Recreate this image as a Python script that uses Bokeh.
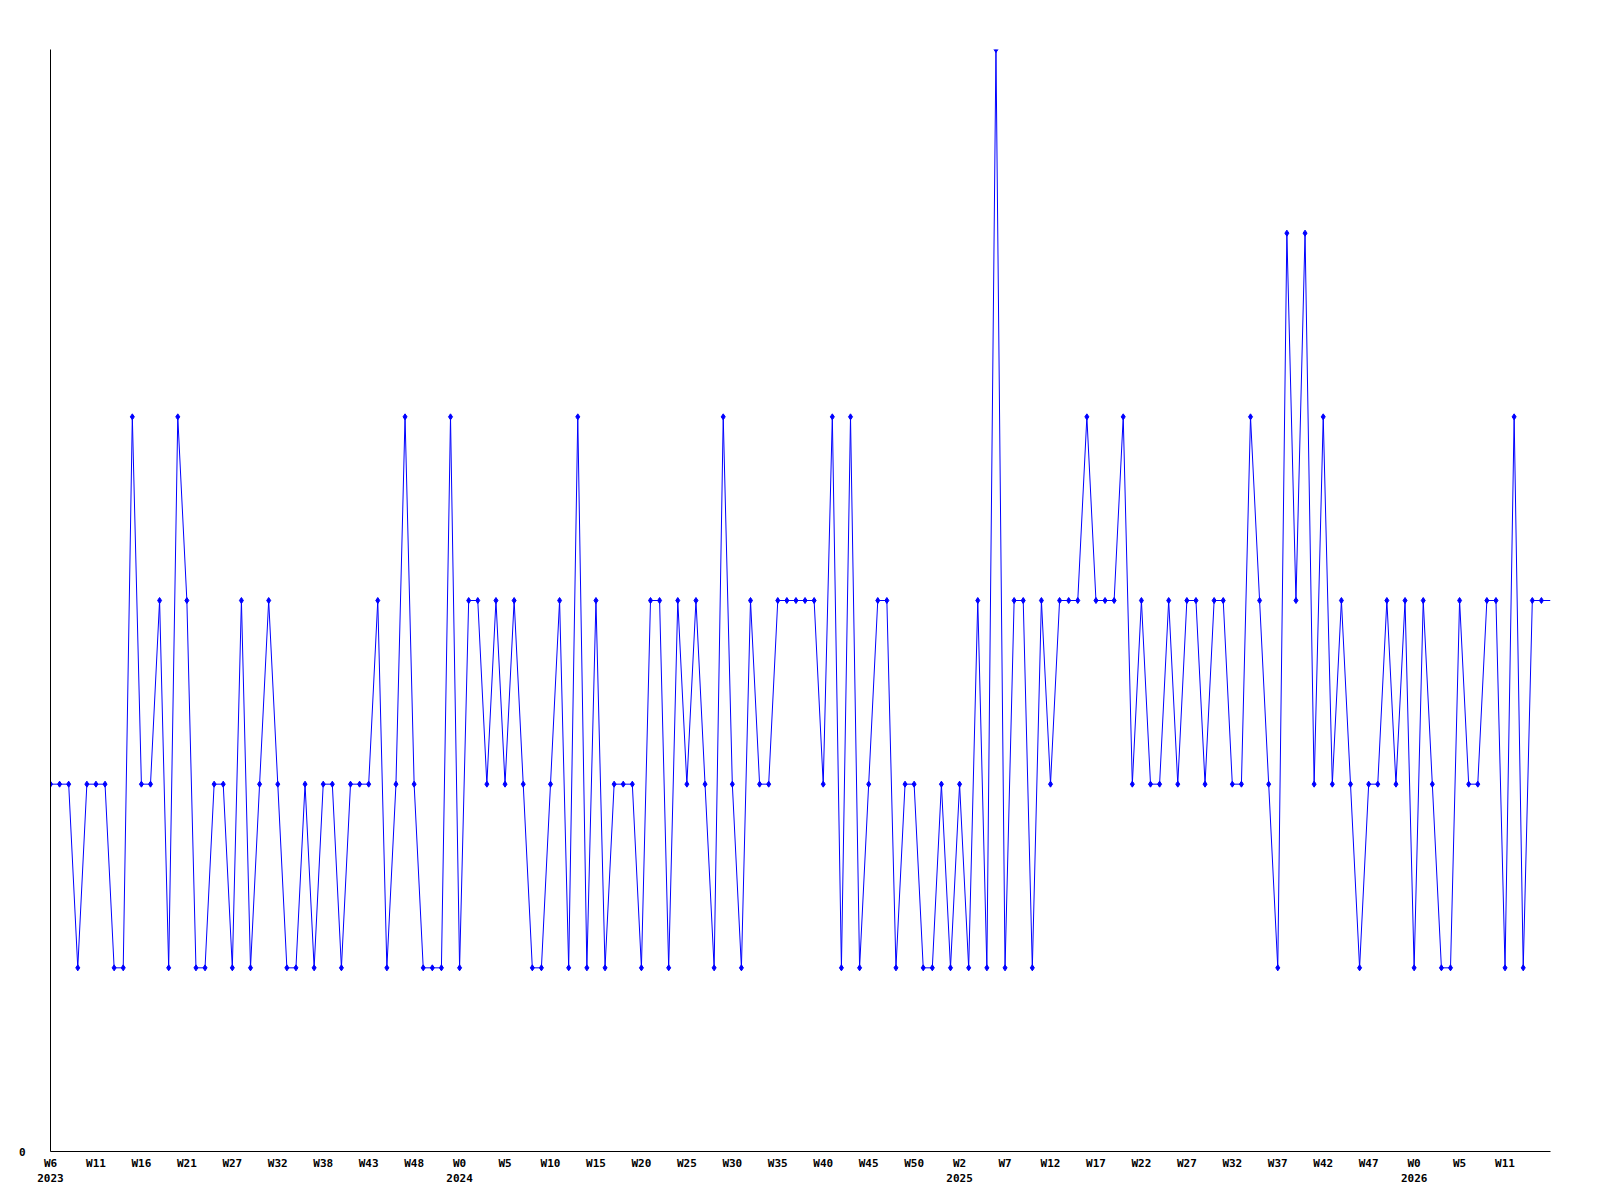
from bokeh.plotting import figure
from bokeh.models import Range1d, FixedTicker, LinearAxis, ColumnDataSource
from bokeh.embed import file_html
from bokeh.resources import INLINE

# weekly counts (one value per week, starting 2023 W6)
values = [
    2, 2, 2, 1, 2, 2, 2, 1, 1, 4, 2, 2, 3, 1, 4, 3, 1, 1, 2, 2,
    1, 3, 1, 2, 3, 2, 1, 1, 2, 1, 2, 2, 1, 2, 2, 2, 3, 1, 2, 4,
    2, 1, 1, 1, 4, 1, 3, 3, 2, 3, 2, 3, 2, 1, 1, 2, 3, 1, 4, 1,
    3, 1, 2, 2, 2, 1, 3, 3, 1, 3, 2, 3, 2, 1, 4, 2, 1, 3, 2, 2,
    3, 3, 3, 3, 3, 2, 4, 1, 4, 1, 2, 3, 3, 1, 2, 2, 1, 1, 2, 1,
    2, 1, 3, 1, 6, 1, 3, 3, 1, 3, 2, 3, 3, 3, 4, 3, 3, 3, 4, 2,
    3, 2, 2, 3, 2, 3, 3, 2, 3, 3, 2, 2, 4, 3, 2, 1, 5, 3, 5, 2,
    4, 2, 3, 2, 1, 2, 2, 3, 2, 3, 1, 3, 2, 1, 1, 3, 2, 2, 3, 3,
    1, 4, 1, 3, 3, 3,
]

week_labels = ["W6", "W11", "W16", "W21", "W27", "W32", "W38", "W43", "W48",
               "W0", "W5", "W10", "W15", "W20", "W25", "W30", "W35", "W40",
               "W45", "W50", "W2", "W7", "W12", "W17", "W22", "W27", "W32",
               "W37", "W42", "W47", "W0", "W5", "W11"]
year_labels = ["2023", "2024", "2025", "2026"]
year_label_index = [0, 45, 100, 150]

n = len(values)
xs = list(range(n))
tick_step = 5
week_ticks = [i * tick_step for i in range(len(week_labels))]

FONT = "DejaVu Sans Mono"
BLUE = "#0000ff"

p = figure(frame_width=1500, frame_height=1102,
           x_range=Range1d(0, n - 1), y_range=Range1d(0, max(values)),
           output_backend="svg", toolbar_location=None,
           min_border_left=50, min_border_top=49, min_border_right=10,
           min_border_bottom=40)
p.outline_line_color = None
p.xgrid.visible = False
p.ygrid.visible = False
p.background_fill_color = "white"
p.border_fill_color = "white"

src_line = ColumnDataSource(dict(x=xs, y=values))
src_pts = ColumnDataSource(dict(x=xs[:-1], y=values[:-1]))
p.line("x", "y", source=src_line, line_color=BLUE, line_width=1)
p.scatter("x", "y", source=src_pts, marker="diamond", size=6,
          fill_color=BLUE, line_color=BLUE)


def style_axis(ax, standoff):
    ax.major_tick_line_color = None
    ax.minor_tick_line_color = None
    ax.major_tick_out = 0
    ax.major_tick_in = 0
    ax.minor_tick_out = 0
    ax.minor_tick_in = 0
    ax.major_label_standoff = standoff
    ax.major_label_text_font = FONT
    ax.major_label_text_font_style = "bold"
    ax.major_label_text_font_size = "11px"
    ax.major_label_text_color = "black"


# x axis: week labels
xa = p.xaxis[0]
xa.ticker = FixedTicker(ticks=week_ticks, minor_ticks=[])
xa.major_label_overrides = {t: lab for t, lab in zip(week_ticks, week_labels)}
xa.axis_line_color = "black"
style_axis(xa, 5)

# second axis: year labels
ya2 = LinearAxis(ticker=FixedTicker(ticks=year_label_index, minor_ticks=[]))
ya2.major_label_overrides = {t: lab for t, lab in zip(year_label_index, year_labels)}
ya2.axis_line_color = None
style_axis(ya2, 1)
p.add_layout(ya2, "below")

# y axis: only 0
ya = p.yaxis[0]
ya.ticker = FixedTicker(ticks=[0], minor_ticks=[])
ya.axis_line_color = "black"
style_axis(ya, 25)

open("out.html", "w").write(file_html(p, INLINE))
